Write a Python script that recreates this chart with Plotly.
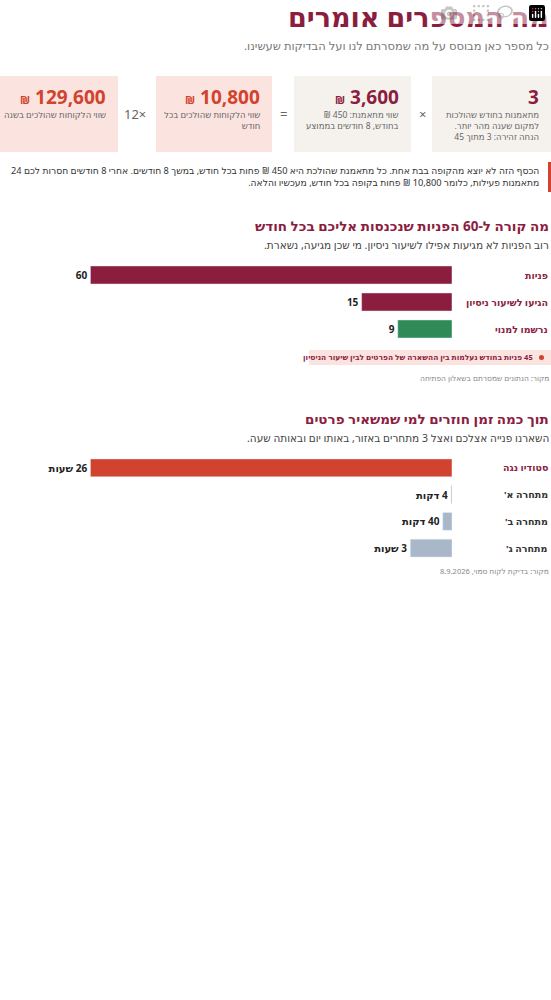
import plotly.graph_objects as go

RLM = "\u200f"


def rtl(s):
    # wrap each line with RLM so Hebrew + numbers read right to left
    return "<br>".join(RLM + ln + RLM for ln in s.split("<br>"))


# funnel data
funnel_labels = ["פניות", "הגיעו לשיעור ניסיון", "נרשמו למנוי"]
funnel_values = [60, 15, 9]
funnel_colors = ["#8b1e3f", "#8b1e3f", "#2e8b57"]

# response time data (minutes)
resp_labels = ["סטודיו נגה", "מתחרה א'", "מתחרה ב'", "מתחרה ג'"]
resp_minutes = [1560, 4, 40, 180]
resp_text = ["26 שעות", "4 דקות", "40 דקות", "3 שעות"]
resp_colors = ["#d1432e", "#a9b8c9", "#a9b8c9", "#a9b8c9"]

# cards
card_numbers = ["3", "₪ 3,600", "₪ 10,800", "₪ 129,600"]
card_texts = [
    "מתאמנות בחודש שהולכות<br>למקום שענה מהר יותר.<br>הנחה זהירה: 3 מתוך 45",
    "שווי מתאמנת: 450 ₪<br>בחודש, 8 חודשים בממוצע",
    "שווי הלקוחות שהולכים בכל<br>חודש",
    "שווי הלקוחות שהולכים בשנה",
]

FONT = "Noto Sans, DejaVu Sans, sans-serif"
W, H = 551, 1000


def py(px):
    return 1 - px / H


def pxx(px):
    return px / W


fig = go.Figure()
fig.add_trace(go.Bar(
    y=funnel_labels, x=funnel_values, orientation="h",
    marker=dict(color=funnel_colors), text=["<b>%d</b>" % v for v in funnel_values],
    textposition="outside", cliponaxis=False,
    textfont=dict(size=10, color="#222", family=FONT),
    xaxis="x", yaxis="y", hoverinfo="skip",
))
fig.add_trace(go.Bar(
    y=resp_labels, x=resp_minutes, orientation="h",
    marker=dict(color=resp_colors), text=["<b>" + rtl(t) + "</b>" for t in resp_text],
    textposition="outside", cliponaxis=False,
    textfont=dict(size=10, color="#222", family=FONT),
    xaxis="x2", yaxis="y2", hoverinfo="skip",
))

ax = dict(visible=False, fixedrange=True)
fig.update_layout(
    width=W, height=H, margin=dict(l=0, r=0, t=0, b=0),
    paper_bgcolor="white", plot_bgcolor="white", showlegend=False,
    bargap=0.33, font=dict(family=FONT),
    xaxis=dict(ax, domain=[0, pxx(452)], range=[75, 0]),
    yaxis=dict(ax, domain=[py(342.5), py(261.5)], autorange="reversed"),
    xaxis2=dict(ax, domain=[0, pxx(452)], range=[1950, 0]),
    yaxis2=dict(ax, domain=[py(561.5), py(454.5)], autorange="reversed"),
)

shapes = []
ann = []


def text(x, y, s, size, color, bold=False, anchor="right"):
    if bold:
        s = "<b>" + s + "</b>"
    ann.append(dict(xref="paper", yref="paper", x=pxx(x), y=py(y), text=s,
                    showarrow=False, xanchor=anchor, yanchor="middle",
                    align=anchor, font=dict(size=size, color=color, family=FONT)))


text(551, 16, rtl("מה המספרים אומרים"), 27, "#8b1e3f", bold=True)
text(551, 45, rtl("כל מספר כאן מבוסס על מה שמסרתם לנו ועל הבדיקות שעשינו."), 11.5, "#777")

# cards
cards = [(432, 551, "#f5f2ee", "#8b1e3f"), (294, 411, "#f5f2ee", "#8b1e3f"),
         (156, 272, "#fbe3df", "#d1432e"), (0, 118, "#fbe3df", "#d1432e")]
for (x0, x1, bg, fg), num, lab in zip(cards, card_numbers, card_texts):
    shapes.append(dict(type="rect", xref="paper", yref="paper", x0=pxx(x0), x1=pxx(x1),
                       y0=py(152), y1=py(76), fillcolor=bg, line=dict(width=0), layer="below"))
    if num.startswith("₪"):
        num = "<span style='font-size:11px'>₪</span> " + num[2:]
    text(x1 - 10, 97, num, 19, fg, bold=True)
    ann.append(dict(xref="paper", yref="paper", x=pxx(x1 - 10), y=py(107), text=rtl(lab),
                    showarrow=False, xanchor="right", yanchor="top", align="right",
                    font=dict(size=8.5, color="#666", family=FONT)))
text(422, 114, "×", 13, "#666", anchor="center")
text(283, 114, "=", 13, "#666", anchor="center")
text(135, 114, "12×", 13, "#666", anchor="center")

# note box
shapes.append(dict(type="line", xref="paper", yref="paper", x0=pxx(549.5), x1=pxx(549.5),
                   y0=py(192), y1=py(162), line=dict(color="#d1432e", width=3)))
ann.append(dict(xref="paper", yref="paper", x=pxx(541), y=py(162), showarrow=False,
                xanchor="right", yanchor="top", align="right",
                text=rtl("הכסף הזה לא יוצא מהקופה בבת אחת. כל מתאמנת שהולכת היא 450 ₪ פחות בכל חודש, במשך 8 חודשים. אחרי 8 חודשים חסרות לכם 24"
                         "<br>מתאמנות פעילות, כלומר 10,800 ₪ פחות בקופה בכל חודש, מעכשיו והלאה."),
                font=dict(size=9.2, color="#333", family=FONT)))

# section 1
text(551, 226, rtl("מה קורה ל-60 הפניות שנכנסות אליכם בכל חודש"), 13.5, "#8b1e3f", bold=True)
text(551, 245, rtl("רוב הפניות לא מגיעות אפילו לשיעור ניסיון. מי שכן מגיעה, נשארת."), 10.5, "#444")
for lab in funnel_labels:
    ann.append(dict(xref="paper", yref="y", x=pxx(550), y=lab, text="<b>" + rtl(lab) + "</b>",
                    showarrow=False, xanchor="right", font=dict(size=9.5, color="#8b1e3f", family=FONT)))
shapes.append(dict(type="rect", xref="paper", yref="paper", x0=pxx(309), x1=pxx(551),
                   y0=py(365), y1=py(350), fillcolor="#fbe3df", line=dict(width=0), layer="below"))
shapes.append(dict(type="circle", xref="paper", yref="paper", x0=pxx(539), x1=pxx(544),
                   y0=py(360), y1=py(355), fillcolor="#d1432e", line=dict(width=0)))
text(535, 357.5, "<b>" + rtl("45 פניות בחודש נעלמות בין ההשארה של הפרטים לבין שיעור הניסיון") + "</b>", 7.5, "#8b1e3f")
text(551, 378, rtl("מקור: הנתונים שמסרתם בשאלון הפתיחה"), 7.5, "#888")

# section 2
text(551, 419, rtl("תוך כמה זמן חוזרים למי שמשאיר פרטים"), 13.5, "#8b1e3f", bold=True)
text(551, 438, rtl("השארנו פנייה אצלכם ואצל 3 מתחרים באזור, באותו יום ובאותה שעה."), 10.5, "#444")
for i, lab in enumerate(resp_labels):
    ann.append(dict(xref="paper", yref="y2", x=pxx(550), y=lab, text="<b>" + rtl(lab) + "</b>",
                    showarrow=False, xanchor="right",
                    font=dict(size=9.5, color="#8b1e3f" if i == 0 else "#333", family=FONT)))
text(551, 571, rtl("מקור: בדיקת לקוח סמוי, 8.9.2026"), 7.5, "#888")

fig.update_layout(shapes=shapes, annotations=ann)
fig.write_html("out.html", post_script="document.body.style.margin='0';")
